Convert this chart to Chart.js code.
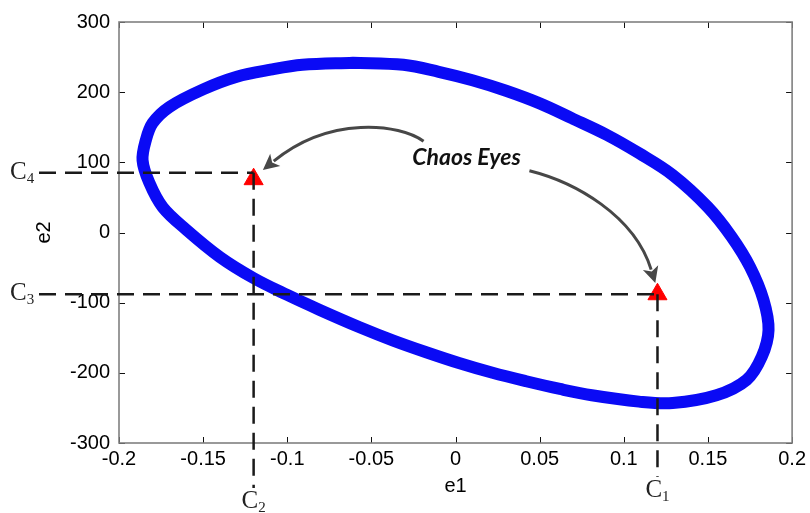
<!DOCTYPE html>
<html lang="en">
<head>
  <meta charset="UTF-8">
  <title>Chaos Eyes</title>
  <script src="https://cdn.jsdelivr.net/npm/chart.js"></script>
  <style>
    html, body { margin: 0; padding: 0; background: #ffffff; }
    #wrap { width: 810px; height: 513px; }
  </style>
</head>
<body>
  <div id="wrap"><canvas id="chart" width="810" height="513"></canvas></div>

  <script>
    // orbit in the e1-e2 plane (starts and ends at the top)
    const orbitE1 = [-0.061, -0.031, -0.010, 0.010, 0.030, 0.050, 0.069, 0.090, 0.109, 0.129,
                     0.150, 0.164, 0.175, 0.183, 0.186, 0.182, 0.173, 0.155, 0.129, 0.109,
                     0.081, 0.062, 0.042, 0.022, 0.002, -0.017, -0.037, -0.057, -0.081, -0.100,
                     -0.120, -0.140, -0.160, -0.174, -0.182, -0.186, -0.184, -0.180, -0.170, -0.150,
                     -0.130, -0.110, -0.091, -0.061];
    const orbitE2 = [242, 239, 229, 217, 202, 184, 163, 139, 113, 82,
                     36, -6, -49, -96, -139, -177, -210, -232, -243, -241,
                     -232, -223, -212, -200, -186, -171, -154, -135, -110, -89,
                     -65, -35, 4, 36, 71, 103, 132, 156, 179, 204,
                     222, 232, 239, 242];

    // the two "chaos eyes"
    const eyeE1 = [-0.12, 0.12];
    const eyeE2 = [76, -88];

    // dashed guide lines: C2 / C1 on e1, C4 / C3 on e2
    const guideE1 = [-0.12, 0.12];
    const guideE2 = [85, -88];
    const guideNames = [['C', '4', 'C', '2'], ['C', '3', 'C', '1']];

    const xTicks = [-0.2, -0.15, -0.1, -0.05, 0, 0.05, 0.1, 0.15, 0.2];
    const xTickLabels = ['-0.2', '-0.15', '-0.1', '-0.05', '0', '0.05', '0.1', '0.15', '0.2'];
    const yTicks = [-300, -200, -100, 0, 100, 200, 300];
    const yTickLabels = ['-300', '-200', '-100', '0', '100', '200', '300'];

    const orbitPoints = orbitE1.map((x, i) => ({ x: x, y: orbitE2[i] }));
    const eyePoints = eyeE1.map((x, i) => ({ x: x, y: eyeE2[i] }));

    // box with inward tick marks, matlab style
    const framePlugin = {
      id: 'frame',
      beforeDatasetsDraw(chart) {
        const { ctx, chartArea: a, scales } = chart;
        ctx.save();
        ctx.strokeStyle = '#111';
        ctx.lineWidth = 1;
        xTicks.forEach(v => {
          const px = Math.round(scales.x.getPixelForValue(v)) + 0.5;
          ctx.beginPath();
          ctx.moveTo(px, a.bottom); ctx.lineTo(px, a.bottom - 6);
          ctx.moveTo(px, a.top); ctx.lineTo(px, a.top + 6);
          ctx.stroke();
        });
        yTicks.forEach(v => {
          const py = Math.round(scales.y.getPixelForValue(v)) + 0.5;
          ctx.beginPath();
          ctx.moveTo(a.left, py); ctx.lineTo(a.left + 6, py);
          ctx.moveTo(a.right, py); ctx.lineTo(a.right - 6, py);
          ctx.stroke();
        });
        ctx.strokeStyle = '#808080';
        ctx.lineWidth = 1.6;
        ctx.strokeRect(a.left, a.top, a.right - a.left, a.bottom - a.top);
        ctx.restore();
      }
    };

    function drawArrow(ctx, pts) {
      const [p0, p1, p2, p3] = pts;
      const dx = p3.x - p2.x, dy = p3.y - p2.y;
      const len = Math.hypot(dx, dy);
      const ux = dx / len, uy = dy / len;
      const head = 16, half = 8;
      const bx = p3.x - ux * head, by = p3.y - uy * head;
      ctx.beginPath();
      ctx.moveTo(p0.x, p0.y);
      ctx.bezierCurveTo(p1.x, p1.y, p2.x, p2.y, bx + ux * 2, by + uy * 2);
      ctx.stroke();
      ctx.beginPath();
      ctx.moveTo(p3.x, p3.y);
      ctx.lineTo(bx - uy * half, by + ux * half);
      ctx.lineTo(bx + ux * 4, by + uy * 4);
      ctx.lineTo(bx + uy * half, by - ux * half);
      ctx.closePath();
      ctx.fill();
    }

    function drawSubLabel(ctx, main, sub, x, y, align) {
      ctx.font = '25px "Liberation Serif"';
      const w1 = ctx.measureText(main).width;
      ctx.font = '15px "Liberation Serif"';
      const w2 = ctx.measureText(sub).width;
      let left = x;
      if (align === 'center') left = x - (w1 + w2) / 2;
      ctx.textAlign = 'left';
      ctx.textBaseline = 'alphabetic';
      ctx.font = '25px "Liberation Serif"';
      ctx.fillText(main, left, y);
      ctx.font = '15px "Liberation Serif"';
      ctx.fillText(sub, left + w1, y + 4);
    }

    // dashed guides, C labels, arrows and the caption
    const notesPlugin = {
      id: 'notes',
      afterDatasetsDraw(chart) {
        const { ctx, chartArea: a, scales } = chart;
        const X = v => scales.x.getPixelForValue(v);
        const Y = v => scales.y.getPixelForValue(v);
        ctx.save();
        ctx.strokeStyle = '#1a1a1a';
        ctx.lineWidth = 2.5;
        ctx.setLineDash([17, 9]);
        const drops = [a.bottom + 45, a.bottom + 34];
        guideE1.forEach((gx, i) => {
          const px = X(gx), py = Y(guideE2[i]);
          ctx.beginPath();
          ctx.moveTo(39, py); ctx.lineTo(px, py);
          ctx.stroke();
          ctx.beginPath();
          ctx.moveTo(px, py); ctx.lineTo(px, drops[i]);
          ctx.stroke();
        });
        ctx.setLineDash([]);

        ctx.fillStyle = '#222';
        guideE1.forEach((gx, i) => {
          const n = guideNames[i];
          drawSubLabel(ctx, n[0], n[1], 10, Y(guideE2[i]) + 6, 'left');
          drawSubLabel(ctx, n[2], n[3], X(gx), drops[i] + 20, 'center');
        });

        ctx.strokeStyle = '#474747';
        ctx.fillStyle = '#474747';
        ctx.lineWidth = 3;
        const P = (x, y) => ({ x: X(x), y: Y(y) });
        drawArrow(ctx, [P(-0.019, 130), P(-0.0332, 155), P(-0.0748, 167), P(-0.1145, 89)]);
        drawArrow(ctx, [P(0.0439, 88), P(0.0706, 72), P(0.1062, 25), P(0.1187, -72)]);

        ctx.fillStyle = '#111';
        ctx.font = 'italic bold 23px Lato';
        ctx.textAlign = 'center';
        ctx.textBaseline = 'middle';
        ctx.fillText('Chaos Eyes', X(0.0065), Y(107));
        ctx.restore();
      }
    };

    const tickFont = { family: '"Liberation Sans", Arial, sans-serif', size: 20 };

    new Chart(document.getElementById('chart'), {
      type: 'scatter',
      data: {
        datasets: [
          {
            label: 'eyes',
            data: eyePoints,
            pointStyle: 'triangle',
            pointRadius: 11,
            backgroundColor: '#ff0000',
            borderColor: '#ff0000',
            borderWidth: 1
          },
          {
            label: 'orbit',
            data: orbitPoints,
            showLine: true,
            tension: 0.35,
            borderColor: '#0a0af5',
            borderWidth: 12,
            borderCapStyle: 'round',
            borderJoinStyle: 'round',
            pointRadius: 0,
            fill: false
          }
        ]
      },
      options: {
        responsive: false,
        animation: false,
        layout: { padding: { top: 22, right: 17, left: 0, bottom: 0 } },
        plugins: { legend: { display: false }, tooltip: { enabled: false } },
        scales: {
          x: {
            type: 'linear', min: -0.2, max: 0.2,
            afterBuildTicks: s => { s.ticks = xTicks.map(v => ({ value: v })); },
            afterFit: s => { s.height = 70; },
            grid: { display: false, drawTicks: false },
            border: { display: false },
            ticks: { callback: (v, i) => xTickLabels[i], color: '#000', font: tickFont, padding: 4, maxRotation: 0, autoSkip: false },
            title: { display: true, text: 'e1', color: '#000', font: tickFont, padding: { top: 0, bottom: 15 } }
          },
          y: {
            type: 'linear', min: -300, max: 300,
            afterBuildTicks: s => { s.ticks = yTicks.map(v => ({ value: v })); },
            afterFit: s => { s.width = 119; },
            grid: { display: false, drawTicks: false },
            border: { display: false },
            ticks: { callback: (v, i) => yTickLabels[i], color: '#000', font: tickFont, padding: 9, autoSkip: false },
            title: { display: true, text: 'e2', color: '#000', font: tickFont, padding: { top: 32, bottom: 0 } }
          }
        }
      },
      plugins: [framePlugin, notesPlugin]
    });
  </script>
</body>
</html>
